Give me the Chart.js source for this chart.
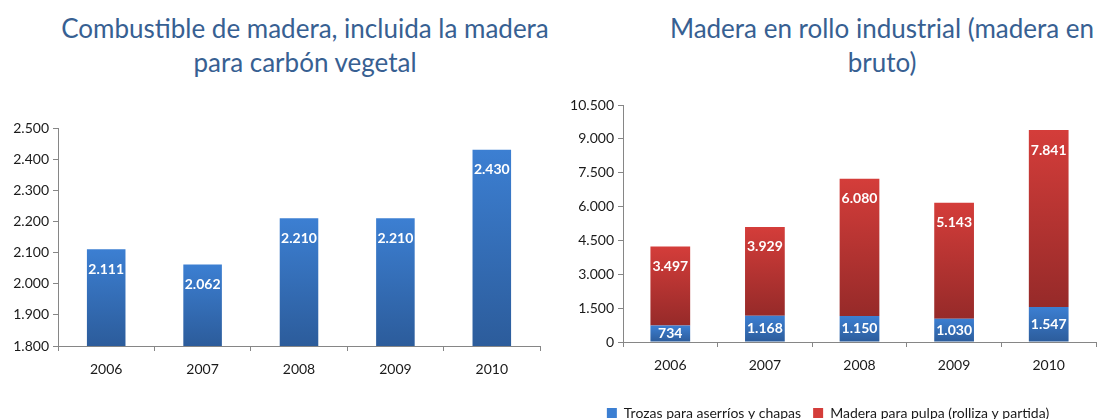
<!DOCTYPE html>
<html>
<head>
<meta charset="utf-8">
<script src="https://cdn.jsdelivr.net/npm/chart.js@4.4.0/dist/chart.umd.min.js"></script>
<style>
  body { margin: 0; width: 1099px; height: 419px; overflow: hidden; background: #fff; font-family: Lato, sans-serif; }
  .titulo { position: absolute; top: 11px; width: 600px; text-align: center; color: #376092; font-size: 26px; line-height: 34px; white-space: nowrap; }
  #caja_izq { position: absolute; left: 0; top: 0; width: 560px; height: 419px; }
  #caja_der { position: absolute; left: 560px; top: 0; width: 539px; height: 419px; }
</style>
</head>
<body>
<div class="titulo" style="left:5px">Combustible de madera, incluida la madera<br>para carbón vegetal</div>
<div class="titulo" style="left:582px">Madera en rollo industrial (madera en<br>bruto)</div>
<div id="caja_izq"><canvas id="grafico_combustible"></canvas></div>
<div id="caja_der"><canvas id="grafico_rollo"></canvas></div>
<script>
// Datos (miles de m3)
const anios = ['2006', '2007', '2008', '2009', '2010'];
const combustible = [2111, 2062, 2210, 2210, 2430];
const trozas = [734, 1168, 1150, 1030, 1547];
const pulpa = [3497, 3929, 6080, 5143, 7841];
const etiquetasSerie = ['Trozas para aserríos y chapas', 'Madera para pulpa (rolliza y partida)'];

// ejes
const ejeCombustible = { min: 1800, max: 2500, paso: 100 };
const ejeRollo = { min: 0, max: 10500, paso: 1500 };

const AZUL = ['#3c7fd2', '#2c5c9b'];
const ROJO = ['#d43d3a', '#962a29'];
const FUENTE = 'Lato, sans-serif';

// 2.111 en vez de 2,111
function formato(v) {
  return String(Math.round(v)).replace(/\B(?=(\d{3})+(?!\d))/g, '.');
}

// degradado vertical para cada barra (arriba claro, abajo oscuro)
function degradado(colores) {
  return (ctx) => {
    const chart = ctx.chart;
    const y = chart.scales.y;
    if (!chart.chartArea || !y || ctx.dataIndex === undefined) return colores[0];
    const datasets = chart.data.datasets;
    const valor = datasets[ctx.datasetIndex].data[ctx.dataIndex];
    let inicio = ctx.datasetIndex > 0 ? 0 : y.min;
    for (let d = 0; d < ctx.datasetIndex; d++) inicio += datasets[d].data[ctx.dataIndex];
    const fin = ctx.datasetIndex > 0 ? inicio + valor : valor;
    const g = chart.ctx.createLinearGradient(0, y.getPixelForValue(fin), 0, y.getPixelForValue(Math.max(inicio, y.min)));
    g.addColorStop(0, colores[0]);
    g.addColorStop(1, colores[1]);
    return g;
  };
}

// etiquetas blancas dentro de las barras
const etiquetasBarras = {
  id: 'etiquetasBarras',
  afterDatasetsDraw(chart) {
    const c = chart.ctx;
    const area = chart.chartArea;
    c.save();
    c.beginPath();
    c.rect(area.left, area.top, area.right - area.left, area.bottom - area.top);
    c.clip();
    c.fillStyle = '#ffffff';
    c.font = 'bold 14px ' + FUENTE;
    c.textAlign = 'center';
    c.textBaseline = 'middle';
    chart.data.datasets.forEach((ds, i) => {
      chart.getDatasetMeta(i).data.forEach((barra, j) => {
        const yTexto = Math.min(barra.y + 20, (barra.y + barra.base) / 2);
        c.fillText(formato(ds.data[j]), barra.x, yTexto);
      });
    });
    c.restore();
  },
};

function ejes(rango, anchoY, alturaX) {
  const rejilla = { drawOnChartArea: false, drawTicks: true, tickLength: 5, color: '#868686' };
  return {
    x: {
      stacked: true,
      grid: { ...rejilla, offset: true },
      border: { color: '#868686' },
      ticks: { color: '#1a1a1a', font: { family: FUENTE, size: 14 }, padding: 10 },
      afterFit: (s) => { s.height = alturaX; },
    },
    y: {
      stacked: true,
      min: rango.min,
      max: rango.max,
      grid: rejilla,
      border: { color: '#868686' },
      ticks: { stepSize: rango.paso, color: '#1a1a1a', font: { family: FUENTE, size: 14 }, padding: 4, callback: (v) => formato(v) },
      afterFit: (s) => { s.width = anchoY; },
    },
  };
}

// Grafica de la izquierda
new Chart(document.getElementById('grafico_combustible'), {
  type: 'bar',
  data: {
    labels: anios,
    datasets: [
      { label: 'Combustible de madera', data: combustible, backgroundColor: degradado(AZUL), barPercentage: 0.4, categoryPercentage: 1 },
    ],
  },
  options: {
    responsive: true,
    maintainAspectRatio: false,
    animation: false,
    layout: { padding: { top: 128, bottom: 43, right: 20, left: 0 } },
    plugins: { legend: { display: false }, tooltip: { enabled: false } },
    scales: ejes(ejeCombustible, 58, 30),
  },
  plugins: [etiquetasBarras],
});

// Grafica de la derecha (apilada)
new Chart(document.getElementById('grafico_rollo'), {
  type: 'bar',
  data: {
    labels: anios,
    datasets: [
      { label: etiquetasSerie[0], data: trozas, backgroundColor: degradado(AZUL), barPercentage: 0.42, categoryPercentage: 1 },
      { label: etiquetasSerie[1], data: pulpa, backgroundColor: degradado(ROJO), barPercentage: 0.42, categoryPercentage: 1 },
    ],
  },
  options: {
    responsive: true,
    maintainAspectRatio: false,
    animation: false,
    layout: { padding: { top: 105, bottom: -11, right: 3, left: 0 } },
    plugins: {
      tooltip: { enabled: false },
      legend: {
        position: 'bottom',
        labels: {
          boxWidth: 10,
          boxHeight: 10,
          padding: 12,
          color: '#1a1a1a',
          font: { family: FUENTE, size: 14 },
          generateLabels: (chart) =>
            Chart.defaults.plugins.legend.labels.generateLabels(chart).map((l, i) => ({
              ...l,
              fillStyle: [AZUL[0], ROJO[0]][i],
              strokeStyle: [AZUL[0], ROJO[0]][i],
              lineWidth: 0,
            })),
        },
      },
    },
    scales: ejes(ejeRollo, 63, 52),
  },
  plugins: [etiquetasBarras],
});
</script>
</body>
</html>
